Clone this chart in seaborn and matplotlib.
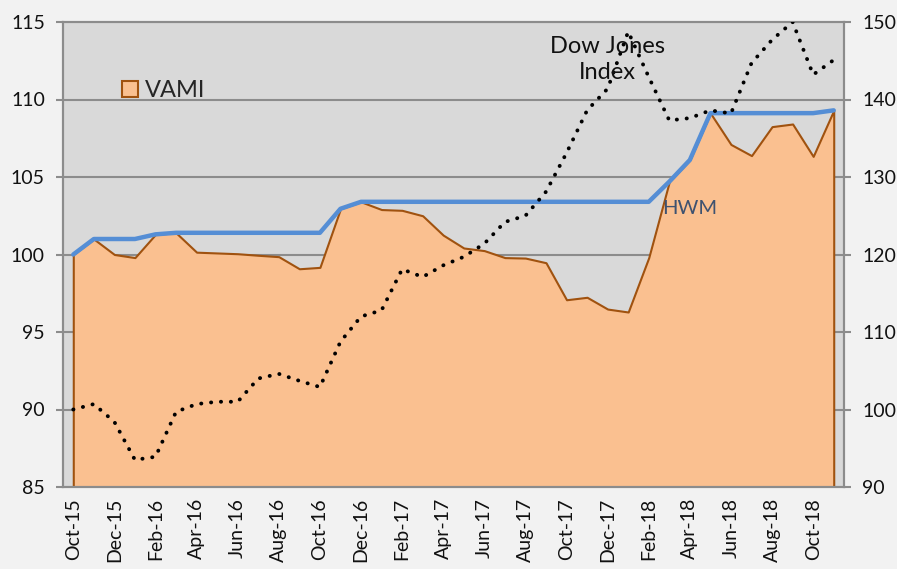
import matplotlib
matplotlib.use("Agg")
import matplotlib.pyplot as plt
from matplotlib.patches import Patch
import seaborn as sns
import pandas as pd
import numpy as np

months = ["Oct-15", "Nov-15", "Dec-15", "Jan-16", "Feb-16", "Mar-16", "Apr-16", "May-16",
          "Jun-16", "Jul-16", "Aug-16", "Sep-16", "Oct-16", "Nov-16", "Dec-16", "Jan-17",
          "Feb-17", "Mar-17", "Apr-17", "May-17", "Jun-17", "Jul-17", "Aug-17", "Sep-17",
          "Oct-17", "Nov-17", "Dec-17", "Jan-18", "Feb-18", "Mar-18", "Apr-18", "May-18",
          "Jun-18", "Jul-18", "Aug-18", "Sep-18", "Oct-18", "Nov-18"]

vami = [100.0, 101.0, 100.0, 99.8, 101.3, 101.4, 100.15, 100.1,
        100.05, 99.95, 99.86, 99.08, 99.17, 102.95, 103.4, 102.9,
        102.85, 102.5, 101.25, 100.42, 100.25, 99.8, 99.77, 99.47,
        97.08, 97.24, 96.48, 96.29, 99.8, 104.7, 106.1, 109.12,
        107.1, 106.38, 108.25, 108.42, 106.33, 109.3]

hwm = [100.0, 101.0, 101.0, 101.0, 101.3, 101.4, 101.4, 101.4,
       101.4, 101.4, 101.4, 101.4, 101.4, 102.95, 103.4, 103.4,
       103.4, 103.4, 103.4, 103.4, 103.4, 103.4, 103.4, 103.4,
       103.4, 103.4, 103.4, 103.4, 103.4, 104.7, 106.1, 109.12,
       109.12, 109.12, 109.12, 109.12, 109.12, 109.3]

dow = [100.0, 100.7, 98.4, 93.5, 93.9, 99.7, 100.7, 101.0,
       101.0, 104.0, 104.6, 103.7, 102.9, 108.75, 112.0, 112.8,
       118.1, 117.1, 118.6, 119.7, 121.4, 124.2, 125.0, 128.1,
       133.1, 138.6, 141.4, 148.75, 142.9, 137.3, 137.6, 138.6,
       138.2, 144.7, 147.7, 150.0, 143.2, 145.1]

left_ticks = [85, 90, 95, 100, 105, 110, 115]
right_ticks = [90, 100, 110, 120, 130, 140, 150]

df = pd.DataFrame({"idx": np.arange(len(months)), "month": months,
                   "vami": vami, "hwm": hwm, "dow": dow})

sns.set_theme(style="white")
plt.rcParams["font.family"] = ["Lato", "DejaVu Sans"]

fig = plt.figure(figsize=(8.97, 5.69), dpi=100)
fig.patch.set_facecolor("#F2F2F2")
ax = fig.add_axes([63 / 897, 1 - 487 / 569, (844 - 63) / 897, (487 - 22) / 569])
ax.set_facecolor("#D9D9D9")

grid_c = "#8C8C8C"
ax.set_ylim(85, 115)
ax.set_xlim(-0.5, len(months) - 0.5)
for v in left_ticks[1:-1]:
    ax.axhline(v, color=grid_c, lw=1.5, zorder=1)

# VAMI area
ax.fill_between(df["idx"], df["vami"], 85, facecolor="#FAC090",
                edgecolor="#A0520F", linewidth=1.5, zorder=2)

# HWM line
sns.lineplot(data=df, x="idx", y="hwm", ax=ax, color="#558ED5", lw=3.2,
             zorder=3, legend=False)

ax2 = ax.twinx()
ax2.set_ylim(90, 150)
sns.lineplot(data=df, x="idx", y="dow", ax=ax2, color="black", lw=2.8,
             linestyle=(0, (0.05, 2.5)), dash_capstyle="round", zorder=4,
             legend=False)
ax2.set_xlim(-0.5, len(months) - 0.5)

for a in (ax, ax2):
    a.set_xlabel("")
    a.set_ylabel("")
    for s in a.spines.values():
        s.set_color(grid_c)
        s.set_linewidth(1.5)

ax.set_yticks(left_ticks)
ax.set_yticklabels([str(t) for t in left_ticks], fontsize=14, color="#111111")
ax2.set_yticks(right_ticks)
ax2.set_yticklabels([str(t) for t in right_ticks], fontsize=14, color="#111111")
ax.tick_params(axis="y", direction="out", length=5, width=1.5, color=grid_c, pad=8)
ax2.tick_params(axis="y", direction="out", length=5, width=1.5, color=grid_c, pad=8)

ax.set_xticks(df["idx"][::2])
ax.set_xticklabels(months[::2], rotation=90, fontsize=14, color="#111111")
ax.set_xticks(np.arange(-0.5, len(months), 2), minor=True)
ax.tick_params(axis="x", which="major", length=0, pad=8)
ax.tick_params(axis="x", which="minor", direction="out", length=5, width=1.5, color=grid_c)
ax.set_zorder(ax2.get_zorder() - 1)
ax2.patch.set_visible(False)
ax.patch.set_visible(True)

# labels
ax2.text(26.0, 145.2, "Dow Jones\nIndex", ha="center", va="center", fontsize=17,
         color="#111111", linespacing=1.3, zorder=5)
ax.text(30.0, 103.0, "HWM", ha="center", va="center", fontsize=14.5,
        color="#3E5270", zorder=5)

handle = Patch(facecolor="#FAC090", edgecolor="#A0520F", linewidth=1.5)
leg = ax.legend([handle], ["VAMI"], loc="upper left", bbox_to_anchor=(0.063, 0.895),
                frameon=False, fontsize=17, handlelength=0.7, handleheight=0.7,
                handletextpad=0.3, borderaxespad=0)

fig.savefig("out.png", dpi=100, facecolor=fig.get_facecolor())
